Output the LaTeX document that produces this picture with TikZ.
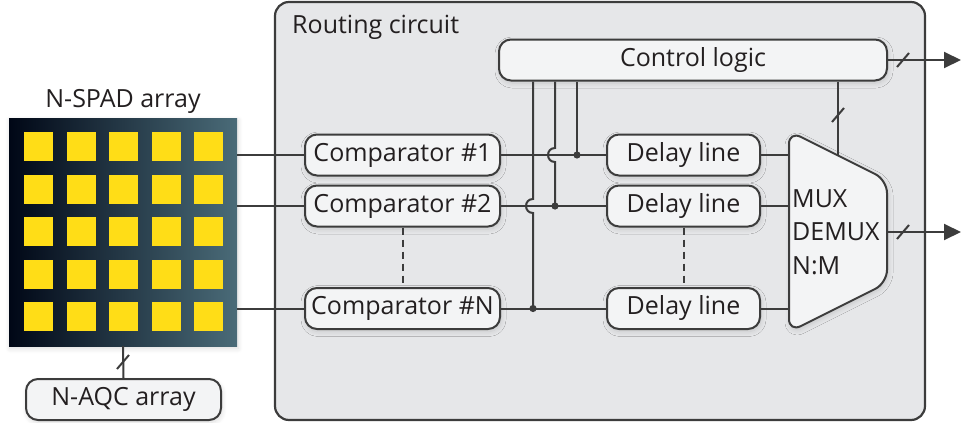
\documentclass[tikz,border=0pt]{standalone}
\usepackage{fontspec}
\setmainfont{Open Sans}
\usetikzlibrary{arrows.meta,shadows.blur,calc}
\definecolor{wire}{HTML}{3C3C3C}
\definecolor{panel}{HTML}{E6E7E9}
\definecolor{boxfill}{HTML}{F3F4F5}
\definecolor{ink}{HTML}{231F20}
\definecolor{spadL}{HTML}{000716}
\definecolor{spadM}{HTML}{062E3B}
\definecolor{spadR}{HTML}{4A6B78}
\definecolor{pixel}{HTML}{FFDD17}
\begin{document}
\begin{tikzpicture}[x=1pt,y=-1pt,
  every node/.style={text=ink, font=\fontsize{25}{29}\selectfont},
  wireline/.style={draw=wire, line width=2pt},
  softshadow/.style={blur shadow={shadow xshift=1pt, shadow yshift=-2.5pt,
      shadow opacity=14, shadow blur radius=5pt, shadow blur steps=8}},
  block/.style={draw=wire, line width=2pt, fill=boxfill, rounded corners=12pt,
      minimum height=41pt, inner sep=0pt, softshadow},
  compbox/.style={block, minimum width=195pt},
  delaybox/.style={block, minimum width=153pt},
  dot/.style={fill=wire},
  busmark/.pic={\draw[wireline] (-6,7) -- (6,-7);},
  outarrow/.style={wireline, -{Triangle[length=17pt, width=16pt]}},
  dashedlink/.style={wireline, dash pattern=on 7pt off 5pt}
]
\useasboundingbox (0,0) rectangle (962,423);

% routing circuit panel
\node[draw=wire, line width=2.2pt, fill=panel, rounded corners=14pt,
      minimum width=650pt, minimum height=418pt, inner sep=0pt]
      (route) at (600,211) {};
\node[anchor=base west, inner sep=0pt] (routelabel) at (292,33) {Routing circuit};

% SPAD array with its 5x5 pixels
\node[minimum width=228pt, minimum height=228pt, inner sep=0pt,
      left color=spadL, middle color=spadM, right color=spadR, softshadow]
      (spad) at (123,232) {};
\foreach \i in {0,...,4}
  \foreach \j in {0,...,4}
    \fill[pixel] ({38.5+42.5*\i-14.5},{146.5+42.5*\j-14.5})
                 rectangle ++(29,29);
\node[anchor=base, inner sep=0pt] (spadlabel) at (123,107) {N-SPAD array};

% AQC array
\node[compbox] (aqc) at (123.5,399.5) {N-AQC array};

% comparators and delay lines
\node[compbox] (comp1) at (402.5,155) {Comparator \#1};
\node[compbox] (comp2) at (402.5,206) {Comparator \#2};
\node[compbox] (compN) at (402.5,308.5) {Comparator \#N};
\node[delaybox] (delay1) at (683.5,155) {Delay line};
\node[delaybox] (delay2) at (683.5,206) {Delay line};
\node[delaybox] (delayN) at (683.5,308.5) {Delay line};

% control logic
\node[block, minimum width=388pt] (ctrl) at (693,60) {Control logic};

% multiplexer
\draw[wireline, fill=boxfill, rounded corners=13pt, softshadow]
  (789,131) -- (887,180) -- (887,283) -- (789,332) -- cycle;
\node[anchor=west, align=left, inner sep=0pt,
      font=\fontsize{25}{33.5}\selectfont] (mux) at (792,232) {MUX\\DEMUX\\N:M};
\coordinate (muxL) at (789,232);
\coordinate (muxtop) at (838,155.5);
\coordinate (muxout) at (887,232);

% SPAD outputs into the comparators
\draw[wireline] (comp1.west -| spad.east) -- (comp1.west);
\draw[wireline] (comp2.west -| spad.east) -- (comp2.west);
\draw[wireline] (compN.west -| spad.east) -- (compN.west);

% SPAD to AQC bus
\draw[wireline] (spad.south) -- (aqc.north);
\pic at (123,362) {busmark};

% comparator to delay rows
\draw[wireline] (comp1.east) -- (delay1.west);
\draw[wireline] (comp2.east) -- (delay2.west);
\draw[wireline] (compN.east) -- (delayN.west);

% control taps on the rows
\coordinate (tapA) at (577,155);
\coordinate (tapB) at (555,206);
\coordinate (tapC) at (533,308.5);
\draw[wireline] (ctrl.south -| tapA) -- (tapA);
\draw[wireline] (ctrl.south -| tapB) -- (555,148)
  .. controls (545.7,148) and (545.7,162) .. (555,162) -- (tapB);
\draw[wireline] (ctrl.south -| tapC) -- (533,199)
  .. controls (523.7,199) and (523.7,213) .. (533,213) -- (tapC);
\fill[dot] (tapA) circle[radius=3.6pt];
\fill[dot] (tapB) circle[radius=3.6pt];
\fill[dot] (tapC) circle[radius=3.6pt];

% dashed continuation between row 2 and row N
\draw[dashedlink] (comp2.south) -- (compN.north);
\draw[dashedlink] (delay2.south) -- (delayN.north);

% delay lines into the multiplexer
\draw[wireline] (delay1.east) -- (delay1.east -| muxL);
\draw[wireline] (delay2.east) -- (delay2.east -| muxL);
\draw[wireline] (delayN.east) -- (delayN.east -| muxL);

% control bus to the multiplexer
\draw[wireline] (ctrl.south -| muxtop) -- (muxtop);
\pic at (838,115) {busmark};

% outputs
\coordinate (out1) at (961,60);
\coordinate (out2) at (961,232);
\draw[outarrow] (ctrl.east) -- (out1);
\draw[outarrow] (muxout) -- (out2);
\pic at (903,60) {busmark};
\pic at (903,232) {busmark};
\end{tikzpicture}
\end{document}
